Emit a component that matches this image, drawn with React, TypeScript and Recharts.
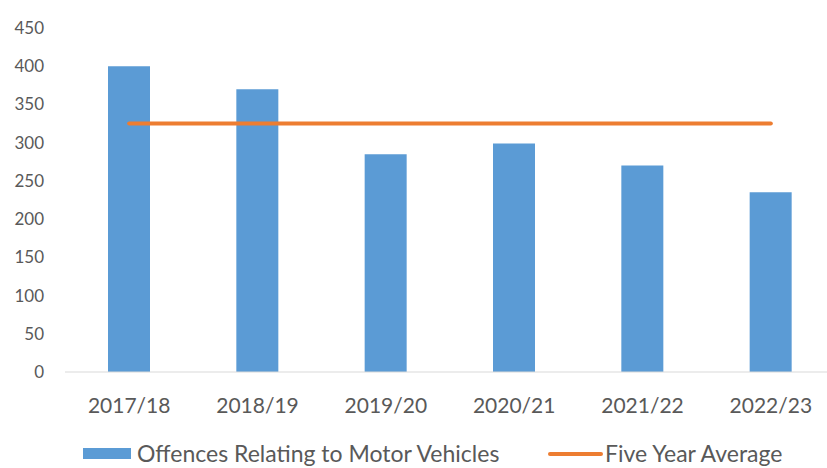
import {
	Bar,
	ComposedChart,
	Legend,
	Line,
	XAxis,
	YAxis,
} from 'recharts'

const years = ['2017/18', '2018/19', '2019/20', '2020/21', '2021/22', '2022/23']
const offences = [400, 370, 285, 299, 270, 235]
const fiveYearAverage = [325, 325, 325, 325, 325, 325]
const yTicks = [0, 50, 100, 150, 200, 250, 300, 350, 400, 450]

const BLUE = '#5B9BD5'
const ORANGE = '#ED7D31'
const FONT = 'Lato, "Liberation Sans", sans-serif'

const renderLegend = () => (
	<div
		style={{
			height: 40,
			fontFamily: FONT,
			fontSize: 23,
			color: '#595959',
			lineHeight: '23px',
			whiteSpace: 'nowrap',
		}}
	>
		<span style={{ position: 'absolute', left: 83, top: 10, display: 'flex', alignItems: 'center' }}>
			<span style={{ display: 'inline-block', width: 48, height: 11, background: BLUE, marginRight: 6 }} />
			Offences Relating to Motor Vehicles
		</span>
		<span style={{ position: 'absolute', left: 548, top: 10, display: 'flex', alignItems: 'center' }}>
			<span style={{ display: 'inline-block', width: 55, height: 4, borderRadius: 2, background: ORANGE, marginRight: 2 }} />
			Five Year Average
		</span>
	</div>
)

export default function App() {
	const data = years.map((year, i) => ({
		year,
		offences: offences[i],
		average: fiveYearAverage[i],
	}))

	return (
		<div
			style={{
				position: 'fixed',
				left: 0,
				top: 0,
				width: 827,
				height: 468,
				overflow: 'hidden',
				background: '#fff',
			}}
		>
			<ComposedChart
				width={840}
				height={472}
				data={data}
				margin={{ top: 28, right: 5, left: 0, bottom: 0 }}
			>
				<XAxis
					dataKey='year'
					height={60}
					tickLine={false}
					axisLine={{ stroke: '#d9d9d9' }}
					tickMargin={20}
					tick={{ fill: '#595959', fontSize: 21, fontFamily: FONT }}
				/>
				<YAxis
					width={65}
					domain={[0, 450]}
					ticks={yTicks}
					axisLine={false}
					tickLine={false}
					tickMargin={15}
					tick={{ fill: '#595959', fontSize: 17, fontFamily: FONT }}
				/>
				<Legend verticalAlign='bottom' height={40} content={renderLegend} />
				<Bar dataKey='offences' fill={BLUE} barSize={42} isAnimationActive={false} />
				<Line
					dataKey='average'
					stroke={ORANGE}
					strokeWidth={4}
					strokeLinecap='round'
					dot={false}
					activeDot={false}
					isAnimationActive={false}
				/>
			</ComposedChart>
		</div>
	)
}
